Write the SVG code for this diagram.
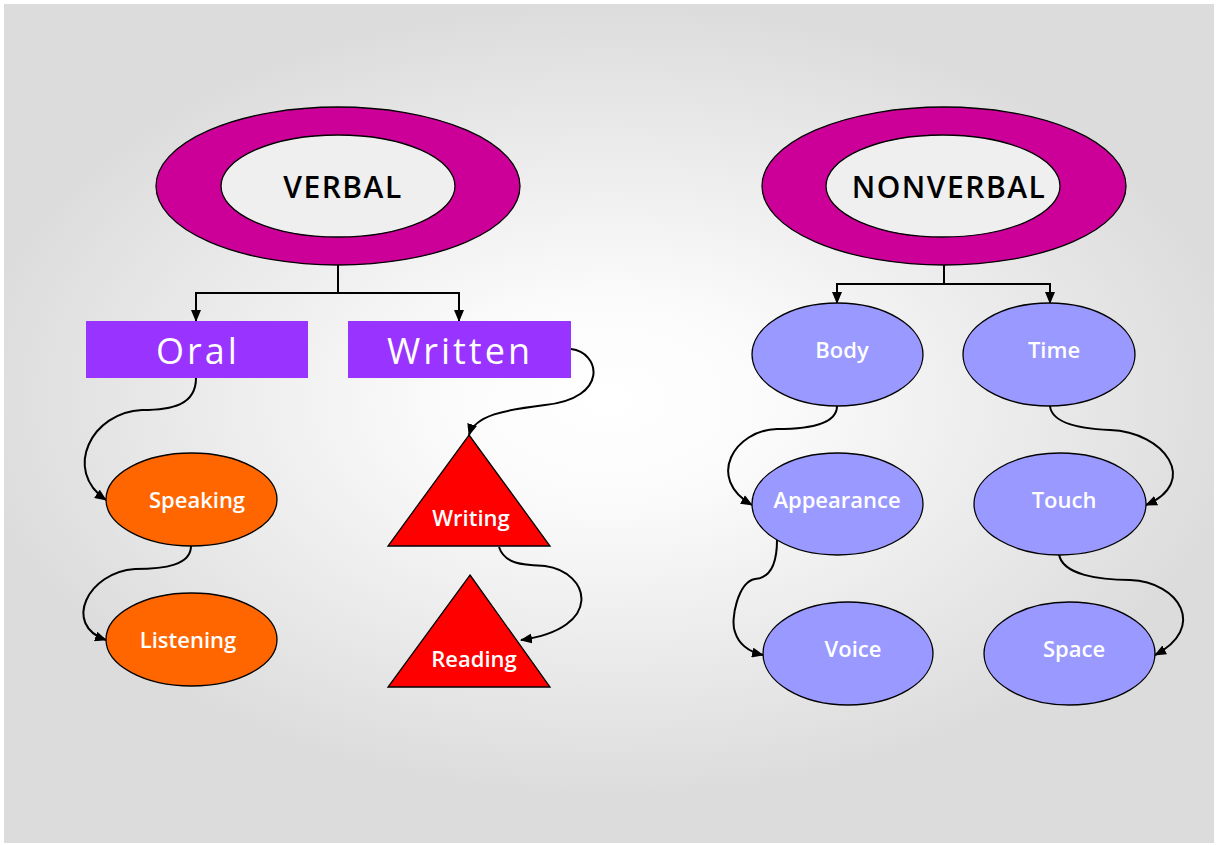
<svg xmlns="http://www.w3.org/2000/svg" width="1216" height="845" viewBox="0 0 1216 845">
<defs>
<radialGradient id="bg" cx="608" cy="400" r="640" gradientUnits="userSpaceOnUse" gradientTransform="translate(608 400) scale(1 0.62) translate(-608 -400)">
<stop offset="0" stop-color="#ffffff"/>
<stop offset="0.25" stop-color="#fbfbfb"/>
<stop offset="1" stop-color="#dcdcdc"/>
</radialGradient>
<marker id="ah" markerWidth="12" markerHeight="10" refX="11" refY="5" orient="auto" markerUnits="userSpaceOnUse" viewBox="0 0 12 10">
<path d="M0,0 L12,5 L0,10 Z" fill="#000"/>
</marker>
</defs>
<style>
.ring{fill:#cc0099;stroke:#000;stroke-width:1.3}
.hole{fill:#efefef;stroke:#000;stroke-width:1.3}
.title{font-family:"Open Sans","DejaVu Sans",sans-serif;font-size:30px;font-weight:600;fill:#000;text-anchor:middle;letter-spacing:1.5px}
.box{fill:#9933ff}
.boxt{font-family:"Open Sans","DejaVu Sans",sans-serif;font-size:36px;font-weight:500;fill:#fff;text-anchor:middle;letter-spacing:3px}
.or{fill:#ff6600;stroke:#000;stroke-width:1.3}
.tri{fill:#ff0000;stroke:#000;stroke-width:1.3}
.bl{fill:#9999ff;stroke:#000;stroke-width:1.3}
.lbl{font-family:"Open Sans","DejaVu Sans",sans-serif;font-size:22px;font-weight:600;fill:#fff;text-anchor:middle}
.con{fill:none;stroke:#000;stroke-width:2}
</style>
<rect x="0" y="0" width="1216" height="845" fill="#ffffff"/>
<rect x="4" y="4" width="1210" height="839" fill="url(#bg)"/>

<g id="connectors">
<path class="con" d="M338,265 V293 H196 V321" marker-end="url(#ah)"/>
<path class="con" d="M338,293 H459 V321" marker-end="url(#ah)"/>
<path class="con" d="M944,265 V284 H837 V303" marker-end="url(#ah)"/>
<path class="con" d="M944,284 H1050 V303" marker-end="url(#ah)"/>
<path class="con" d="M196,378 C196,405 172,410 142,410 C92,412 62,470 106,500" marker-end="url(#ah)"/>
<path class="con" d="M191,546 C191,565 165,569 135,569 C88,572 62,625 106,640" marker-end="url(#ah)"/>
<path class="con" d="M571,349 C600,352 610,398 545,405 C505,410 475,415 469,435" marker-end="url(#ah)"/>
<path class="con" d="M499,547 C505,565 525,565 545,566 C590,572 605,628 521,640" marker-end="url(#ah)"/>
<path class="con" d="M837,406 C837,425 805,429 777,429 C735,430 705,478 752,505" marker-end="url(#ah)"/>
<path class="con" d="M1050,406 C1052,425 1085,429 1110,430 C1165,432 1200,482 1146,505" marker-end="url(#ah)"/>
<path class="con" d="M777,540 C777,565 770,578 755,579 C738,582 730,620 735,632 C739,645 750,652 763,655" marker-end="url(#ah)"/>
<path class="con" d="M1059,554 C1062,575 1100,580 1130,580 C1180,582 1207,628 1155,655" marker-end="url(#ah)"/>
</g>

<g id="verbal">
<ellipse class="ring" cx="338" cy="186" rx="182" ry="79"/>
<ellipse class="hole" cx="338" cy="186" rx="117" ry="51"/>
<text class="title" x="343" y="198">VERBAL</text>
</g>
<g id="nonverbal">
<ellipse class="ring" cx="944" cy="186" rx="182" ry="79"/>
<ellipse class="hole" cx="943" cy="186" rx="117" ry="51"/>
<text class="title" x="949" y="198">NONVERBAL</text>
</g>

<g id="oral">
<rect class="box" x="86" y="321" width="222" height="57"/>
<text class="boxt" x="198" y="364">Oral</text>
</g>
<g id="written">
<rect class="box" x="348" y="321" width="223" height="57"/>
<text class="boxt" x="460" y="364">Written</text>
</g>

<g id="speaking">
<ellipse class="or" cx="191.5" cy="499.5" rx="85.5" ry="46.5"/>
<text class="lbl" x="197" y="508">Speaking</text>
</g>
<g id="listening">
<ellipse class="or" cx="191.5" cy="639.5" rx="85.5" ry="46.5"/>
<text class="lbl" x="188" y="648">Listening</text>
</g>

<g id="writing">
<polygon class="tri" points="469,435 550,546 388,546"/>
<text class="lbl" x="471" y="526">Writing</text>
</g>
<g id="reading">
<polygon class="tri" points="470,575 550,687 388,687"/>
<text class="lbl" x="474" y="667">Reading</text>
</g>

<g id="body">
<ellipse class="bl" cx="837.5" cy="354.5" rx="85.5" ry="51.5"/>
<text class="lbl" x="842" y="358">Body</text>
</g>
<g id="time">
<ellipse class="bl" cx="1049" cy="354.5" rx="86" ry="51.5"/>
<text class="lbl" x="1054" y="358">Time</text>
</g>
<g id="appearance">
<ellipse class="bl" cx="837.5" cy="504" rx="85.5" ry="51"/>
<text class="lbl" x="837" y="508">Appearance</text>
</g>
<g id="touch">
<ellipse class="bl" cx="1060" cy="504" rx="86" ry="51"/>
<text class="lbl" x="1064" y="508">Touch</text>
</g>
<g id="voice">
<ellipse class="bl" cx="848" cy="653.5" rx="85" ry="51.5"/>
<text class="lbl" x="853" y="657">Voice</text>
</g>
<g id="space">
<ellipse class="bl" cx="1069.5" cy="653.5" rx="85.5" ry="51.5"/>
<text class="lbl" x="1074" y="657">Space</text>
</g>
</svg>
